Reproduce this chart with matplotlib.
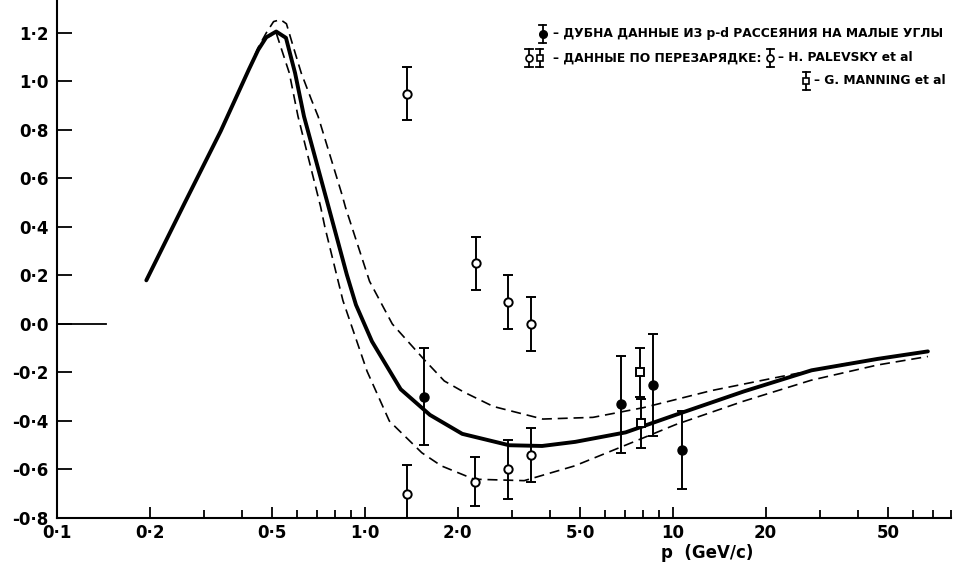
import matplotlib
matplotlib.use("Agg")
import matplotlib.pyplot as plt
from matplotlib.lines import Line2D
from matplotlib.ticker import FixedLocator, LogLocator, NullFormatter
from matplotlib import font_manager

# ---------------- data ----------------
p_solid = [0.195, 0.26, 0.34, 0.42, 0.45, 0.478, 0.515, 0.554, 0.593, 0.634, 0.762,
           0.873, 0.935, 1.054, 1.306, 1.626, 2.07, 2.94, 3.76, 4.82, 7.02,
           10.24, 17.0, 28.2, 46.2, 67.3]
y_solid = [0.18, 0.50, 0.795, 1.05, 1.13, 1.182, 1.206, 1.18, 1.035, 0.856, 0.482,
           0.204, 0.079, -0.072, -0.269, -0.375, -0.453, -0.50, -0.503, -0.486, -0.447,
           -0.374, -0.278, -0.191, -0.144, -0.113]

p_upper = [0.42, 0.45, 0.478, 0.505, 0.532, 0.556, 0.583, 0.621, 0.670, 0.705, 0.842,
           0.865, 1.035, 1.227, 1.56, 1.81, 2.09, 2.61, 3.78, 5.50,
           8.02, 13.3, 21.8, 36.1, 67.3]
y_upper = [1.05, 1.14, 1.20, 1.247, 1.255, 1.238, 1.15, 1.035, 0.925, 0.855, 0.534,
           0.48, 0.176, 0.0, -0.148, -0.235, -0.28, -0.34, -0.392, -0.385,
           -0.345, -0.275, -0.220, -0.165, -0.113]

p_lower = [0.42, 0.45, 0.478, 0.515, 0.568, 0.606, 0.718, 0.741, 0.848, 1.016, 1.20,
           1.53, 1.77, 2.26, 3.29, 4.80, 7.01, 10.2, 16.9, 28.1, 46.2, 67.3]
y_lower = [1.05, 1.13, 1.18, 1.20, 1.035, 0.857, 0.483, 0.40, 0.097, -0.195, -0.40,
           -0.531, -0.585, -0.64, -0.646, -0.585, -0.50, -0.415, -0.319, -0.232, -0.169, -0.134]

dubna_p = [1.56, 6.8, 8.6, 10.7]
dubna_y = [-0.30, -0.33, -0.25, -0.52]
dubna_err = [0.20, 0.20, 0.21, 0.16]

palevsky_p = [1.37, 2.3, 2.92, 3.47, 1.37, 2.28, 2.92, 3.47]
palevsky_y = [0.95, 0.25, 0.09, 0.0, -0.70, -0.65, -0.60, -0.54]
palevsky_err = [0.11, 0.11, 0.11, 0.11, 0.12, 0.10, 0.12, 0.11]

manning_p = [7.8, 7.9]
manning_y = [-0.20, -0.41]
manning_err = [0.10, 0.10]

x_ticks = [0.1, 0.2, 0.5, 1.0, 2.0, 5.0, 10, 20, 50]
x_ticklabels = ["0·1", "0·2", "0·5", "1·0", "2·0", "5·0", "10", "20", "50"]
y_ticks = [-0.8, -0.6, -0.4, -0.2, 0.0, 0.2, 0.4, 0.6, 0.8, 1.0, 1.2]
y_ticklabels = ["-0·8", "-0·6", "-0·4", "-0·2", "0·0", "0·2", "0·4", "0·6", "0·8", "1·0", "1·2"]

legend_dubna = "– ДУБНА ДАННЫЕ ИЗ p-d РАССЕЯНИЯ НА МАЛЫЕ УГЛЫ"
legend_cex = "– ДАННЫЕ ПО ПЕРЕЗАРЯДКЕ:"
legend_palevsky = "– H. PALEVSKY et al"
legend_manning = "– G. MANNING et al"
x_label = "p  (GeV/c)"

# ---------------- figure ----------------
plt.rcParams['font.family'] = ['DejaVu Sans']
plt.rcParams['font.weight'] = 'bold'

# narrow lettering for the legend if available
try:
    font_manager.findfont(font_manager.FontProperties(family='Liberation Sans Narrow',
                                                      weight='bold'),
                          fallback_to_default=False)
    leg_family = ['Liberation Sans Narrow', 'DejaVu Sans']
    fs_leg = 10.5
except Exception:
    leg_family = ['DejaVu Sans']
    fs_leg = 8.8

W, H = 954, 563
fig = plt.figure(figsize=(W / 100, H / 100), dpi=100)
fig.patch.set_facecolor('white')
ax = fig.add_axes([57 / W, 1 - 518 / H, (951 - 57) / W, 518 / H])

ax.set_xscale('log')
ax.set_xlim(0.1, 80)
ax.set_ylim(-0.8, 1.336)

# curves
ax.plot(p_solid, y_solid, color='black', lw=2.8, solid_capstyle='round',
        solid_joinstyle='round', zorder=3)
ax.plot(p_upper, y_upper, color='black', lw=1.2, dashes=(6, 3.5), zorder=2)
ax.plot(p_lower, y_lower, color='black', lw=1.2, dashes=(6, 3.5), zorder=2)

# data points
eb_kw = dict(ecolor='black', elinewidth=1.4, capsize=3.5, capthick=1.4, ls='none', zorder=4)
ax.errorbar(dubna_p, dubna_y, yerr=dubna_err, fmt='o', ms=6.5, mfc='black', mec='black', **eb_kw)
ax.errorbar(palevsky_p, palevsky_y, yerr=palevsky_err, fmt='o', ms=6, mfc='white', mec='black',
            mew=1.4, **eb_kw)
ax.errorbar(manning_p, manning_y, yerr=manning_err, fmt='s', ms=6, mfc='white', mec='black',
            mew=1.4, **eb_kw)

# axes styling
for side in ('top', 'right'):
    ax.spines[side].set_visible(False)
for side in ('left', 'bottom'):
    ax.spines[side].set_linewidth(1.5)

ax.xaxis.set_major_locator(FixedLocator(x_ticks))
ax.set_xticklabels(x_ticklabels)
ax.xaxis.set_minor_locator(LogLocator(base=10, subs=range(1, 10)))
ax.xaxis.set_minor_formatter(NullFormatter())
ax.set_yticks(y_ticks)
ax.set_yticklabels(y_ticklabels)

ax.tick_params(axis='x', which='major', direction='in', length=8, width=1.3,
               labelsize=12, pad=4)
ax.tick_params(axis='x', which='minor', direction='in', length=6, width=1.3)
ax.tick_params(axis='y', which='major', direction='in', length=11, width=1.3,
               labelsize=12, pad=6)
for lab in ax.get_xticklabels() + ax.get_yticklabels():
    lab.set_fontweight('bold')

# longer zero tick
ax.axhline(0.0, xmin=0, xmax=0.055, color='black', lw=1.3)

ax.set_xlabel(x_label, fontsize=12, fontweight='bold')
ax.xaxis.set_label_coords((707 - 57) / (951 - 57), -0.05)

# ---------------- legend (top right) ----------------
def fx(px):
    return px / W

def fy(py):
    return 1 - py / H

def key(px, py, kind):
    tr = fig.transFigure
    h = 9
    c = 3.5
    fig.add_artist(Line2D([fx(px), fx(px)], [fy(py + h), fy(py - h)], transform=tr,
                          color='black', lw=1.3))
    for yy in (py - h, py + h):
        fig.add_artist(Line2D([fx(px - c), fx(px + c)], [fy(yy), fy(yy)], transform=tr,
                              color='black', lw=1.3))
    if kind == 'filled':
        m = dict(marker='o', ms=5.5, mfc='black', mec='black')
    elif kind == 'circle':
        m = dict(marker='o', ms=5, mfc='white', mec='black', mew=1.2)
    else:
        m = dict(marker='s', ms=5, mfc='white', mec='black', mew=1.2)
    fig.add_artist(Line2D([fx(px)], [fy(py)], transform=tr, ls='none', **m))

txt_kw = dict(fontsize=fs_leg, fontweight='bold', family=leg_family, va='center', ha='left')
y1, y2, y3 = 34, 58, 81
key(543, y1, 'filled')
fig.text(fx(553), fy(y1), legend_dubna, **txt_kw)
key(529, y2, 'circle')
key(540, y2, 'square')
t2 = fig.text(fx(553), fy(y2), legend_cex, **txt_kw)
fig.canvas.draw()
r = fig.canvas.get_renderer()
bb = t2.get_window_extent(renderer=r)
kx = bb.x1 + 9
key(kx, y2, 'circle')
t3 = fig.text(fx(kx + 8), fy(y2), legend_palevsky, **txt_kw)
t4 = fig.text(0, fy(y3), legend_manning, **txt_kw)
fig.canvas.draw()
w4 = t4.get_window_extent(renderer=r).width
mx = min(kx + 45, W - 8 - w4 - 8)
key(mx, y3, 'square')
t4.set_x(fx(mx + 8))

fig.savefig('out.png', dpi=100, facecolor='white')
